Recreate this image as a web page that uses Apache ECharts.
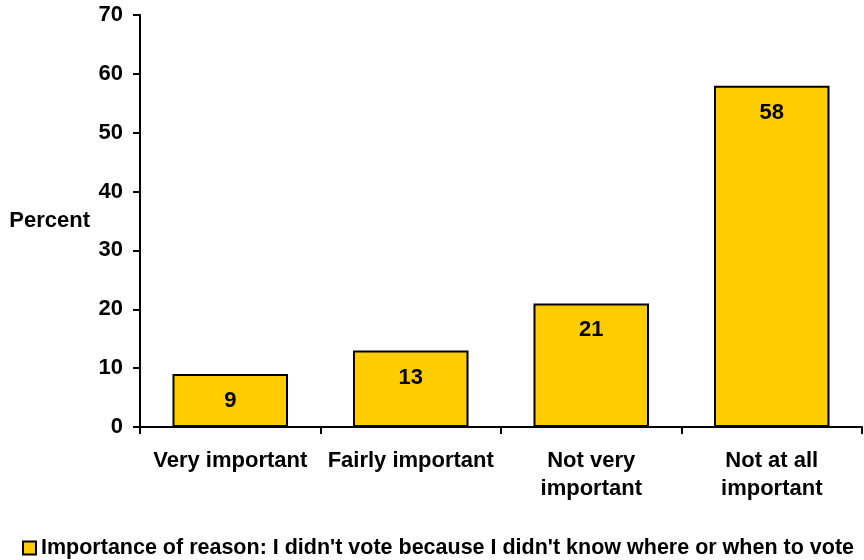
<!DOCTYPE html>
<html><head><meta charset="utf-8">
<script src="https://cdn.jsdelivr.net/npm/echarts@6/dist/echarts.min.js"></script>
<style>html,body{margin:0;padding:0;background:#fff}#c{width:864px;height:560px}</style>
</head><body><div id="c"></div>
<script>
const categories = ["Very important", "Fairly important", "Not very\nimportant", "Not at all\nimportant"];
const values = [9, 13, 21, 58];
const seriesName = "Importance of reason: I didn't vote because I didn't know where or when to vote";
const yTicks = {min: 0, max: 70, interval: 10};

const font = "Liberation Sans, Arial, sans-serif";
const chart = echarts.init(document.getElementById('c'), null, {renderer: 'canvas'});
chart.setOption({
  animation: false,
  grid: {left: 140, right: 2, top: 15, bottom: 133, containLabel: false},
  legend: {
    top: 532, left: 17,
    itemWidth: 13, itemHeight: 13, itemGap: 4,
    icon: 'rect',
    textStyle: {fontFamily: font, fontWeight: 'bold', fontSize: 21.5, lineHeight: 22, color: '#000'},
    data: [{name: seriesName, itemStyle: {borderColor: '#000', borderWidth: 2}}]
  },
  xAxis: {
    type: 'category', data: categories,
    axisLine: {lineStyle: {color: '#000', width: 2}},
    axisTick: {show: true, length: 7, lineStyle: {color: '#000', width: 2}, alignWithLabel: false},
    axisLabel: {fontFamily: font, fontWeight: 'bold', fontSize: 22, color: '#000', margin: 20, lineHeight: 28, interval: 0}
  },
  yAxis: {
    type: 'value', min: yTicks.min, max: yTicks.max, interval: yTicks.interval,
    name: 'Percent', nameLocation: 'middle', nameRotate: 0, nameGap: 50,
    nameTextStyle: {fontFamily: font, fontWeight: 'bold', fontSize: 22, color: '#000', align: 'right'},
    axisLine: {show: true, lineStyle: {color: '#000', width: 2}},
    axisTick: {show: true, length: 7, lineStyle: {color: '#000', width: 2}},
    splitLine: {show: false},
    axisLabel: {fontFamily: font, fontWeight: 'bold', fontSize: 22, color: '#000', margin: 17}
  },
  series: [{
    name: seriesName, type: 'bar', data: values, barWidth: '64%',
    itemStyle: {color: '#FFCC00', borderColor: '#000', borderWidth: 2},
    label: {show: true, position: 'insideTop', distance: 16, fontFamily: font, fontWeight: 'bold', fontSize: 22, color: '#000'}
  }]
});
</script></body></html>
